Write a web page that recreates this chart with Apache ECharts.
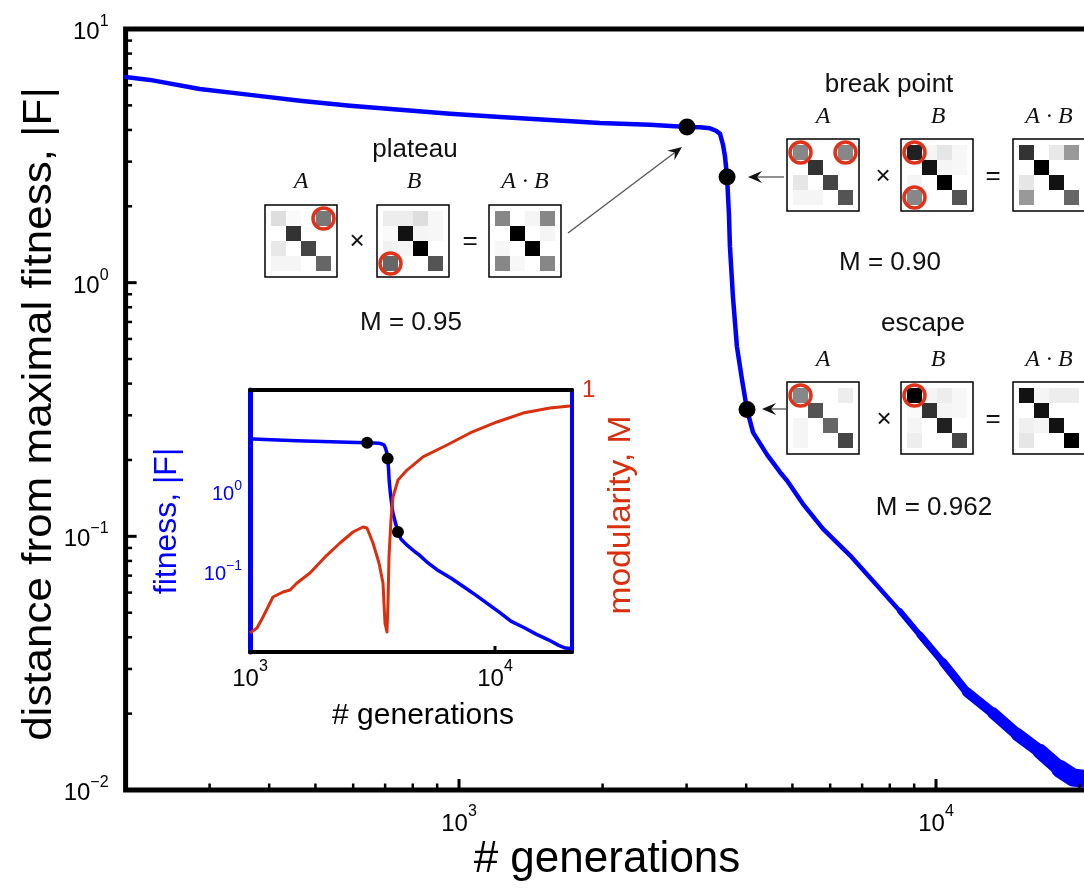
<!DOCTYPE html>
<html><head><meta charset="utf-8">
<script src="https://cdn.jsdelivr.net/npm/echarts@6/dist/echarts.min.js"></script>
<style>html,body{margin:0;padding:0;background:#fff;}#c{width:1084px;height:888px;}</style>
</head><body><div id="c"></div>
<script>
// ---------------- data ----------------
const generations = [200,225,286,365,464,591,752,958,1219,1551,1975,2514,3006,3201,3359,3458,3526,3577,3612,3647,3681,3698,3752,3825,3920,4016,4134,4423,4710,4871,5263,5796,6601,7450,8405,9258,10340,11610,13170,14780,16520,18200,19380,21030];
const fitness = [6.47,6.30,5.80,5.50,5.21,4.98,4.80,4.63,4.50,4.38,4.26,4.19,4.11,4.10,4.06,3.97,3.86,3.49,3.13,2.61,1.85,1.39,0.881,0.560,0.415,0.316,0.257,0.210,0.179,0.166,0.134,0.107,0.0842,0.0653,0.0507,0.0408,0.0319,0.0243,0.0201,0.0166,0.0142,0.0121,0.0112,0.0110];
const eventGen = [3006, 3647, 4016];
const eventFit = [4.11, 2.61, 0.316];
const modGen = [1000,1068,1130,1241,1364,1457,1555,1757,2062,2330,2633,2893,3003,3177,3361,3490,3556,3624,3658,3692,3762,3834,4019,4374,5083,6370,7907,10190,13010,16770,20240];
const modValue = [0.8145,0.8183,0.8267,0.8420,0.8458,0.8473,0.8527,0.8603,0.8740,0.8832,0.8916,0.8954,0.8947,0.8832,0.8679,0.8527,0.8221,0.8153,0.8374,0.8725,0.9008,0.9183,0.9313,0.9389,0.9489,0.9580,0.9672,0.9756,0.9824,0.9863,0.9878];
const xTickValues = [300,400,500,600,700,800,900,1000,2000,3000,4000,5000,6000,7000,8000,9000,10000,20000];
const yTickValues = [0.02,0.03,0.04,0.05,0.06,0.07,0.08,0.09,0.1,0.2,0.3,0.4,0.5,0.6,0.7,0.8,0.9,1,2,3,4,5,6,7,8,9];
const insetXTickValues = [10000];
// matrices (darkness 0 = white, 1 = black), rows top to bottom
const plateauA  = [[0.13,0.02,0,0.53],[0,0.80,0,0],[0.09,0,0.73,0],[0.04,0.04,0,0.60]];
const plateauB  = [[0.07,0.07,0.13,0.03],[0.02,0.93,0.04,0.03],[0.05,0.04,1.0,0],[0.60,0,0,0.67]];
const plateauAB = [[0.47,0,0.04,0.47],[0,1.0,0,0.04],[0.03,0,1.0,0],[0.47,0.03,0,0.47]];
const breakA    = [[0.47,0,0,0.47],[0,0.80,0,0],[0.10,0,0.73,0],[0.04,0.04,0,0.67]];
const breakB    = [[0.87,0.04,0.10,0.03],[0,0.93,0.04,0.03],[0.04,0,1.0,0],[0.47,0,0,0.67]];
const breakAB   = [[0.80,0,0.09,0.40],[0,1.0,0,0],[0.10,0,0.93,0],[0.40,0,0,0.60]];
const escapeA   = [[0.47,0,0,0.07],[0,0.67,0,0],[0.04,0,0.60,0],[0.04,0,0,0.73]];
const escapeB   = [[1.0,0.04,0.07,0.03],[0.02,0.80,0.04,0.03],[0.04,0,0.87,0],[0.07,0,0,0.73]];
const escapeAB  = [[0.93,0.04,0.07,0.07],[0,0.93,0,0],[0.06,0.04,0.93,0],[0.10,0,0,1.0]];
// circled cells [col,row]
const plateauACircles = [[3,0]];
const plateauBCircles = [[0,3]];
const breakACircles = [[0,0],[3,0]];
const breakBCircles = [[0,0],[0,3]];
const escapeACircles = [[0,0]];
const escapeBCircles = [[0,0]];

// ---------------- layout / style ----------------
const FF = '"Liberation Sans", Arial, sans-serif';
const SERIF = '"Liberation Serif", "DejaVu Serif", serif';
const BLUE = '#0000ff';
const RED = '#d8300f';
const panels = [
  {m: plateauA,  c: plateauACircles, left: 265, top: 205},
  {m: plateauB,  c: plateauBCircles, left: 377, top: 205},
  {m: plateauAB, c: [],              left: 489, top: 205},
  {m: breakA,    c: breakACircles,   left: 787, top: 139},
  {m: breakB,    c: breakBCircles,   left: 901, top: 139},
  {m: breakAB,   c: [],              left: 1013, top: 139},
  {m: escapeA,   c: escapeACircles,  left: 787, top: 382},
  {m: escapeB,   c: escapeBCircles,  left: 901, top: 382},
  {m: escapeAB,  c: [],              left: 1013, top: 382}
];

function isPow10(v){ const e = Math.log10(v); return Math.abs(e - Math.round(e)) < 1e-6; }
function powLabel(v, allowed){
  if (!isPow10(v)) return '';
  const r = Math.round(Math.log10(v));
  if (allowed && allowed.indexOf(r) < 0) return '';
  return '{b|10}{s|' + (r < 0 ? '\u2212' + (-r) : r) + '}';
}
function rich(base, sup, color, pad){
  return {
    b: {fontSize: base, fontFamily: FF, color: color, padding: [pad,0,0,0], verticalAlign: 'bottom'},
    s: {fontSize: sup, fontFamily: FF, color: color, verticalAlign: 'top'}
  };
}

const fitData = generations.map((g,i) => [g, fitness[i]]);
const eventData = eventGen.map((g,i) => [g, eventFit[i]]);
const modData = modGen.map((g,i) => [g, modValue[i]]);

const grids = [
  {left: 125.6, top: 29, width: 964.1, height: 761, show: true, borderColor: '#000', borderWidth: 5, z: 1, outerBoundsMode: 'none', containLabel: false},
  {left: 250, top: 390, width: 322, height: 262, outerBoundsMode: 'none', containLabel: false}
];
const xAxes = [
  {type: 'log', logBase: 10, gridIndex: 0, min: 200, max: 21000,
   axisLine: {show: false}, axisTick: {show: false}, splitLine: {show: false},
   axisLabel: {margin: 14, showMinLabel: true, showMaxLabel: true, hideOverlap: false, formatter: v => powLabel(v), rich: rich(24, 16, '#000', 8)}},
  {type: 'log', logBase: 10, gridIndex: 1, min: 1000, max: 20620,
   axisLine: {show: true, lineStyle: {color: '#000', width: 4}}, axisTick: {show: false}, splitLine: {show: false},
   axisLabel: {margin: 7, showMinLabel: true, showMaxLabel: true, formatter: v => powLabel(v), rich: rich(24, 16, '#000', 8)}},
  {type: 'log', logBase: 10, gridIndex: 1, min: 1000, max: 20620, position: 'top',
   axisLine: {show: true, lineStyle: {color: '#000', width: 4}}, axisTick: {show: false}, axisLabel: {show: false}, splitLine: {show: false}}
];
const yAxes = [
  {type: 'log', logBase: 10, gridIndex: 0, min: 0.01, max: 10,
   axisLine: {show: false}, axisTick: {show: false}, splitLine: {show: false},
   axisLabel: {margin: 17, showMinLabel: true, showMaxLabel: true, formatter: v => powLabel(v), rich: rich(24, 16, '#000', 7)}},
  {type: 'log', logBase: 10, gridIndex: 1, min: 0.01, max: 18.8,
   axisLine: {show: true, lineStyle: {color: BLUE, width: 5}}, axisTick: {show: false}, splitLine: {show: false},
   axisLabel: {margin: 8, showMinLabel: true, showMaxLabel: true, formatter: v => powLabel(v, [0, -1]), rich: rich(20, 14, BLUE, 6)}},
  {type: 'value', gridIndex: 1, min: 0.8, max: 1, interval: 0.2, position: 'right',
   axisLine: {show: true, lineStyle: {color: BLUE, width: 4}}, axisTick: {show: false}, splitLine: {show: false},
   axisLabel: {margin: 10, showMaxLabel: true, color: RED, fontSize: 24, fontFamily: FF, formatter: v => (Math.abs(v - 1) < 1e-9 ? '1' : '')}}
];

const series = [];
// main curve + noisy tail thickening
series.push({type: 'line', xAxisIndex: 0, yAxisIndex: 0, data: fitData, showSymbol: false, clip: true, z: 3,
  lineStyle: {color: BLUE, width: 4.5, join: 'round', cap: 'round'}});
[[8405, 6], [9258, 7], [10340, 8.5], [11610, 10], [13170, 11.5], [14780, 13], [16520, 15], [18200, 18]].forEach(([g, w]) => {
  series.push({type: 'line', xAxisIndex: 0, yAxisIndex: 0, data: fitData.filter(d => d[0] >= g), showSymbol: false, clip: true, z: 3,
    lineStyle: {color: BLUE, width: w, join: 'round', cap: 'round'}});
});
series.push({type: 'scatter', xAxisIndex: 0, yAxisIndex: 0, data: eventData, symbolSize: 17, itemStyle: {color: '#000', opacity: 1}, z: 5});
// ticks for main axes
series.push({type: 'custom', xAxisIndex: 0, yAxisIndex: 0, z: 4, data: xTickValues.map(v => [v, 0.01]),
  renderItem: (p, api) => {
    const v = api.value(0); const pt = api.coord([v, 0.01]); const len = isPow10(v) ? 11 : 6.5;
    return {type: 'line', shape: {x1: pt[0], y1: pt[1], x2: pt[0], y2: pt[1] - len}, style: {stroke: '#000', lineWidth: isPow10(v) ? 3 : 2.5}};
  }});
series.push({type: 'custom', xAxisIndex: 0, yAxisIndex: 0, z: 4, data: yTickValues.map(v => [200, v]),
  renderItem: (p, api) => {
    const v = api.value(1); const pt = api.coord([200, v]); const len = isPow10(v) ? 11 : 6.5;
    return {type: 'line', shape: {x1: pt[0], y1: pt[1], x2: pt[0] + len, y2: pt[1]}, style: {stroke: '#000', lineWidth: isPow10(v) ? 3 : 2.5}};
  }});
// inset
series.push({type: 'line', xAxisIndex: 1, yAxisIndex: 1, data: fitData, showSymbol: false, clip: true, z: 3,
  lineStyle: {color: BLUE, width: 3.5, join: 'round'}});
series.push({type: 'line', xAxisIndex: 1, yAxisIndex: 2, data: modData, showSymbol: false, clip: true, z: 3,
  lineStyle: {color: RED, width: 3, join: 'round'}});
series.push({type: 'scatter', xAxisIndex: 1, yAxisIndex: 1, data: eventData, symbolSize: 12, itemStyle: {color: '#000', opacity: 1}, z: 5});
series.push({type: 'custom', xAxisIndex: 1, yAxisIndex: 1, z: 4, data: insetXTickValues.map(v => [v, 0.01]),
  renderItem: (p, api) => {
    const pt = api.coord([api.value(0), 0.01]);
    return {type: 'line', shape: {x1: pt[0], y1: pt[1], x2: pt[0], y2: pt[1] - 6}, style: {stroke: '#000', lineWidth: 3}};
  }});

// matrix panels
const heatIdx = [];
panels.forEach((pn) => {
  const gi = grids.length, xi = xAxes.length, yi = yAxes.length;
  grids.push({left: pn.left, top: pn.top, width: 72, height: 72, show: true, borderColor: '#000', borderWidth: 1.5, backgroundColor: '#fff', z: 6, outerBoundsMode: 'none', containLabel: false});
  xAxes.push({type: 'value', gridIndex: gi, min: -0.9, max: 3.9, show: false});
  yAxes.push({type: 'value', gridIndex: gi, min: -0.9, max: 3.9, inverse: true, show: false});
  const cells = [];
  pn.m.forEach((row, r) => row.forEach((v, c) => cells.push([c, r, v])));
  heatIdx.push(series.length);
  series.push({type: 'custom', xAxisIndex: xi, yAxisIndex: yi, data: cells, z: 7,
    renderItem: (p, api) => {
      const c = api.value(0), r = api.value(1);
      const a = api.coord([c - 0.5, r - 0.5]), b = api.coord([c + 0.5, r + 0.5]);
      return {type: 'rect', shape: {x: Math.min(a[0], b[0]), y: Math.min(a[1], b[1]), width: Math.abs(b[0] - a[0]), height: Math.abs(b[1] - a[1])},
        style: {fill: api.visual('color')}};
    }});
  if (pn.c.length) {
    series.push({type: 'scatter', xAxisIndex: xi, yAxisIndex: yi, data: pn.c, symbol: 'circle', symbolSize: 21, z: 8,
      itemStyle: {color: 'rgba(0,0,0,0)', borderColor: '#e0321a', borderWidth: 3.5, opacity: 1}});
  }
});

// ---------------- annotations ----------------
function txt(x, y, text, size, opts) {
  opts = opts || {};
  return {type: 'text', x: x, y: y, rotation: opts.rot || 0, scaleX: opts.sx || 1, z: 20,
    style: {text: text, font: (opts.italic ? 'italic ' : '') + size + 'px ' + (opts.family || FF), fill: opts.color || '#111',
      align: 'center', verticalAlign: 'middle', textAlign: 'center', textVerticalAlign: 'middle'}};
}
function arrow(x1, y1, x2, y2) {
  const dx = x2 - x1, dy = y2 - y1, L = Math.hypot(dx, dy), ux = dx / L, uy = dy / L, nx = -uy, ny = ux;
  const hl = 14, hw = 6, notch = 9;
  return [
    {type: 'line', z: 20, shape: {x1: x1, y1: y1, x2: x2 - ux * notch, y2: y2 - uy * notch}, style: {stroke: '#555', lineWidth: 1.3}},
    {type: 'polygon', z: 20, shape: {points: [[x2, y2], [x2 - ux * hl + nx * hw, y2 - uy * hl + ny * hw], [x2 - ux * notch, y2 - uy * notch], [x2 - ux * hl - nx * hw, y2 - uy * hl - ny * hw]]}, style: {fill: '#111'}}
  ];
}
const graphics = [
  txt(607, 860, '# generations', 44, {color: '#000'}),
  txt(40, 414, 'distance from maximal fitness, |F|', 40, {color: '#000', rot: Math.PI / 2, sx: 1.1}),
  txt(423, 716, '# generations', 30, {color: '#000'}),
  txt(167, 521, 'fitness, |F|', 32, {color: BLUE, rot: Math.PI / 2}),
  txt(621, 515, 'modularity, M', 32, {color: RED, rot: Math.PI / 2, sx: 1.05}),
  txt(415, 150, 'plateau', 26),
  txt(301, 182, 'A', 24, {italic: true, family: SERIF}),
  txt(414, 182, 'B', 24, {italic: true, family: SERIF}),
  txt(525, 182, 'A \u00b7 B', 24, {italic: true, family: SERIF}),
  txt(357, 242, '\u00d7', 26), txt(470, 242, '=', 26),
  txt(411, 323, 'M = 0.95', 26),
  txt(889, 85, 'break point', 26),
  txt(823, 117, 'A', 24, {italic: true, family: SERIF}),
  txt(938, 117, 'B', 24, {italic: true, family: SERIF}),
  txt(1049, 117, 'A \u00b7 B', 24, {italic: true, family: SERIF}),
  txt(883, 177, '\u00d7', 26), txt(993, 177, '=', 26),
  txt(890, 263, 'M = 0.90', 26),
  txt(923, 324, 'escape', 26),
  txt(823, 360, 'A', 24, {italic: true, family: SERIF}),
  txt(938, 360, 'B', 24, {italic: true, family: SERIF}),
  txt(1049, 360, 'A \u00b7 B', 24, {italic: true, family: SERIF}),
  txt(884, 420, '\u00d7', 26), txt(993, 420, '=', 26),
  txt(934, 508, 'M = 0.962', 26)
].concat(arrow(568, 233, 682, 147), arrow(784, 177, 748, 177), arrow(786, 409, 762, 409));

const chart = echarts.init(document.getElementById('c'), null, {renderer: 'canvas', width: 1084, height: 888});
chart.setOption({
  animation: false,
  backgroundColor: '#fff',
  grid: grids,
  xAxis: xAxes,
  yAxis: yAxes,
  visualMap: [{type: 'continuous', show: false, min: 0, max: 1, dimension: 2, seriesIndex: heatIdx, inRange: {color: ['#ffffff', '#000000']}}],
  series: series,
  graphic: graphics
});
</script>
</body></html>
